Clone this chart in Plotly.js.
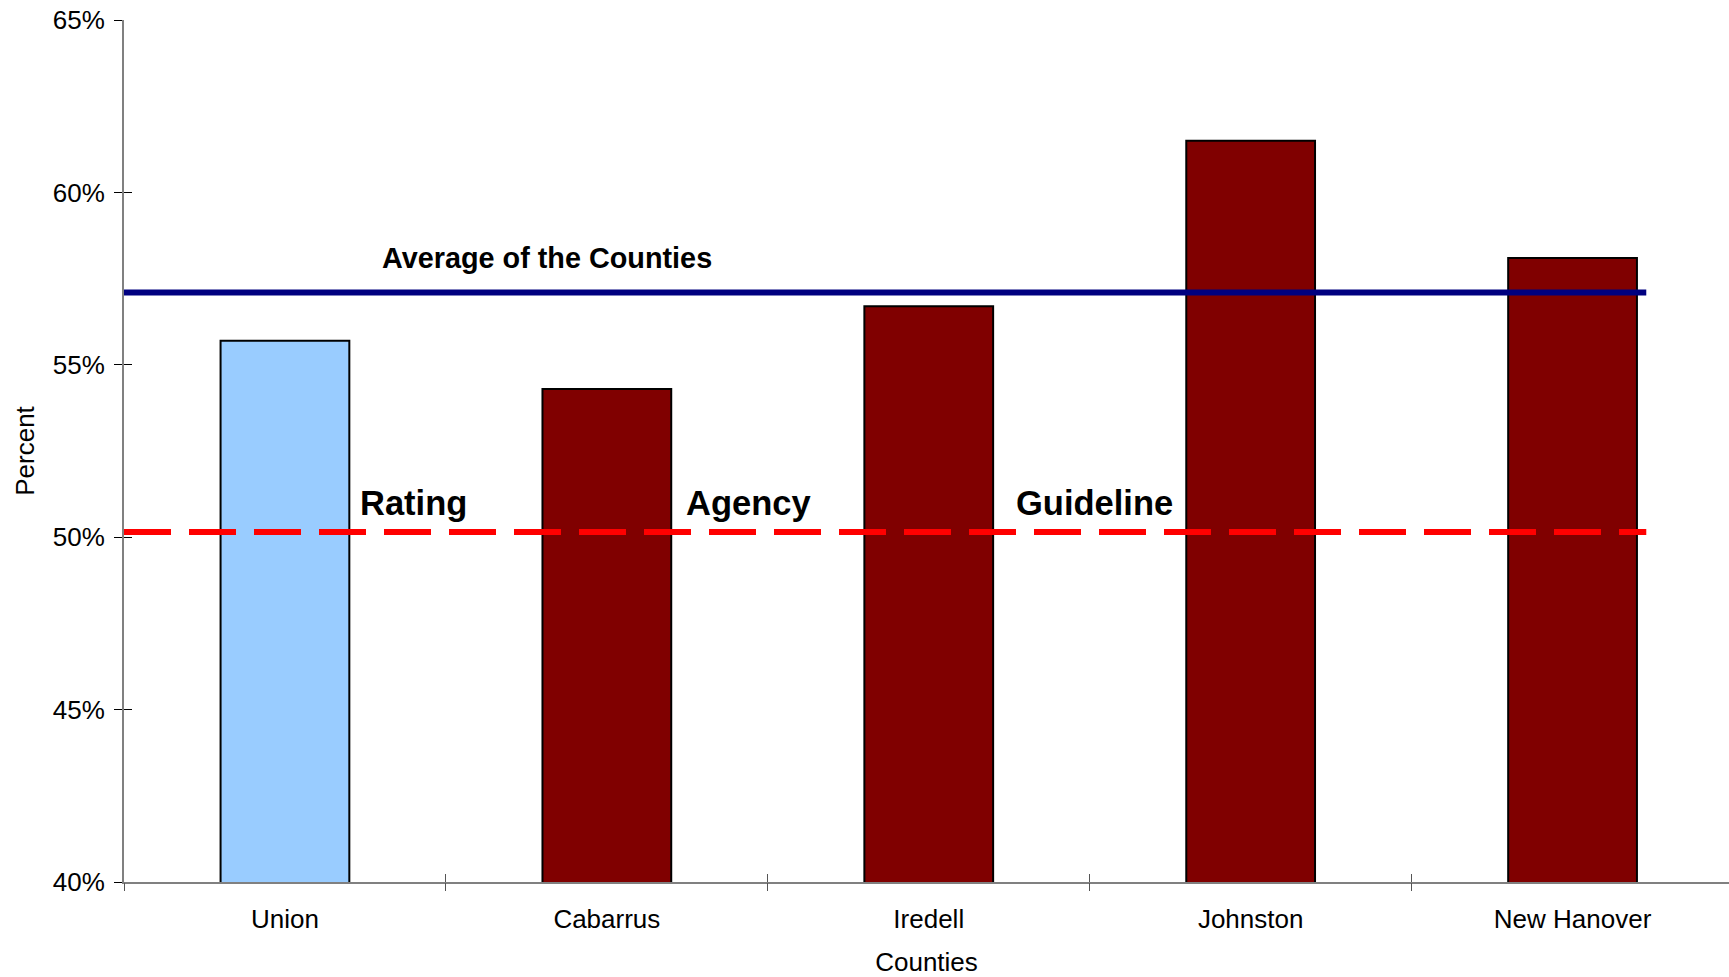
<!DOCTYPE html>
<html>
<head>
<meta charset="utf-8">
<script src="https://cdn.plot.ly/plotly-3.0.1.min.js"></script>
<style>
  html, body { margin: 0; padding: 0; background: #ffffff; overflow: hidden; }
  #chart { width: 1729px; height: 977px; }
</style>
</head>
<body>
<div id="chart"></div>
<script>
// County percentages
const counties = ['Union', 'Cabarrus', 'Iredell', 'Johnston', 'New Hanover'];
const percentValues = [55.7, 54.3, 56.7, 61.5, 58.1];
const barColors = ['#99CCFF', '#800000', '#800000', '#800000', '#800000'];

// Reference lines
const countyAverage = 57.1;
const agencyGuideline = 50.15;
const guidelineWords = ['Rating', 'Agency', 'Guideline'];

// Axis ticks
const yTickValues = [40, 45, 50, 55, 60, 65];
const yTickLabels = ['40%', '45%', '50%', '55%', '60%', '65%'];

const FONT = 'Liberation Sans, Arial, sans-serif';
const xIdx = counties.map((_, i) => i);
const boundaries = counties.map((_, i) => i - 0.5).concat([counties.length - 0.5]);
const xRange = [-0.5, 4.486];
const yRange = [40, 65];
const lineSpan = [-0.5, 4.229];

const traces = [
  {
    type: 'bar',
    x: xIdx,
    y: percentValues,
    base: 0,
    width: 0.4,
    marker: { color: barColors, line: { color: '#000000', width: 2 } },
    hoverinfo: 'skip',
    showlegend: false
  },
  {
    type: 'scatter',
    mode: 'lines',
    x: lineSpan,
    y: [countyAverage, countyAverage],
    line: { color: '#000080', width: 6 },
    hoverinfo: 'skip',
    showlegend: false
  },
  {
    type: 'scatter',
    mode: 'lines',
    x: lineSpan,
    y: [agencyGuideline, agencyGuideline],
    line: { color: '#FF0000', width: 6, dash: '47px,18px' },
    hoverinfo: 'skip',
    showlegend: false
  },
  // carriers for the overlay axes that hold the inner tick halves
  {
    type: 'scatter', mode: 'none', x: xIdx, y: percentValues,
    xaxis: 'x2', yaxis: 'y2', hoverinfo: 'skip', showlegend: false
  },
  {
    type: 'scatter', mode: 'none', x: xIdx, y: percentValues,
    xaxis: 'x3', yaxis: 'y', hoverinfo: 'skip', showlegend: false
  }
];

const wordX = [0.399, 1.440, 2.515];
const annotations = [
  {
    xref: 'x', yref: 'y', x: 0.814, y: countyAverage,
    text: '<b>Average of the Counties</b>', showarrow: false,
    xanchor: 'center', yanchor: 'middle', yshift: 34,
    font: { family: FONT, size: 28.8, color: '#000000' }
  }
].concat(guidelineWords.map((w, i) => ({
  xref: 'x', yref: 'y', x: wordX[i], y: agencyGuideline,
  text: '<b>' + w + '</b>', showarrow: false,
  xanchor: 'center', yanchor: 'middle', yshift: 29,
  font: { family: FONT, size: 34.5, color: '#000000' }
})));

const axisFont = { family: FONT, size: 26, color: '#000000' };

const layout = {
  width: 1729,
  height: 977,
  margin: { l: 124, r: 0, t: 20, b: 95 },
  paper_bgcolor: '#ffffff',
  plot_bgcolor: '#ffffff',
  font: axisFont,
  showlegend: false,
  // category labels at bar centres
  xaxis: {
    type: 'linear',
    range: xRange,
    tickmode: 'array',
    tickvals: xIdx,
    ticktext: counties,
    ticks: '',
    tickfont: axisFont,
    ticklabelstandoff: 13,
    showline: true,
    linecolor: '#808080',
    linewidth: 2,
    showgrid: false,
    zeroline: false,
    title: { text: 'Counties', font: axisFont, standoff: 22 },
    automargin: false,
    fixedrange: true
  },
  // boundary ticks, lower half
  xaxis3: {
    type: 'linear',
    overlaying: 'x',
    anchor: 'y',
    range: xRange,
    tickmode: 'array',
    tickvals: boundaries,
    showticklabels: false,
    ticks: 'outside',
    ticklen: 8,
    tickwidth: 1,
    tickcolor: '#555555',
    showline: false,
    showgrid: false,
    zeroline: false,
    fixedrange: true
  },
  // boundary ticks, upper half
  xaxis2: {
    type: 'linear',
    overlaying: 'x',
    anchor: 'y2',
    range: xRange,
    tickmode: 'array',
    tickvals: boundaries,
    showticklabels: false,
    ticks: 'inside',
    ticklen: 8,
    tickwidth: 1,
    tickcolor: '#555555',
    showline: false,
    showgrid: false,
    zeroline: false,
    fixedrange: true
  },
  yaxis: {
    range: yRange,
    tickmode: 'array',
    tickvals: yTickValues,
    ticktext: yTickLabels,
    ticks: 'outside',
    ticklen: 8,
    tickwidth: 1,
    tickcolor: '#000000',
    tickfont: axisFont,
    ticklabelstandoff: 4,
    showline: true,
    linecolor: '#808080',
    linewidth: 2,
    showgrid: false,
    zeroline: false,
    title: { text: 'Percent', font: axisFont, standoff: 11 },
    automargin: false,
    fixedrange: true
  },
  yaxis2: {
    overlaying: 'y',
    anchor: 'x2',
    range: yRange,
    tickmode: 'array',
    tickvals: yTickValues,
    showticklabels: false,
    ticks: 'inside',
    ticklen: 8,
    tickwidth: 1,
    tickcolor: '#000000',
    showline: false,
    showgrid: false,
    zeroline: false,
    fixedrange: true
  },
  annotations: annotations
};

Plotly.newPlot('chart', traces, layout, { displayModeBar: false, staticPlot: true });
</script>
</body>
</html>
